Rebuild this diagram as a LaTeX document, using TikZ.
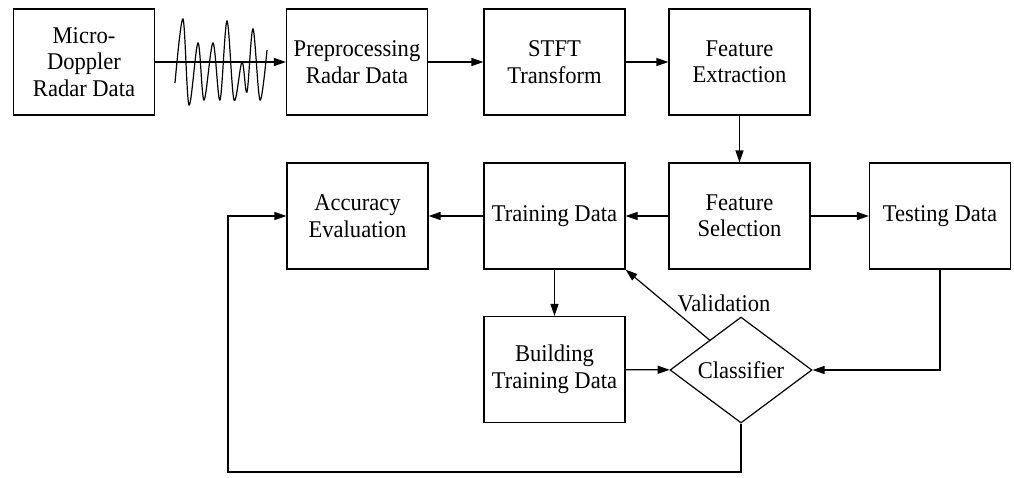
\documentclass[tikz,border=0pt]{standalone}
\usepackage{fontspec}
\setmainfont[FakeStretch=0.94]{Liberation Serif}
\usetikzlibrary{shapes.geometric,arrows.meta,calc}
\begin{document}
\begin{tikzpicture}[x=1pt,y=-1pt,
  box/.style={draw, line width=1.2pt, minimum width=141pt, minimum height=106pt, align=center, inner sep=0pt, font=\fontsize{24}{26.5}\selectfont},
  dia/.style={draw, diamond, line width=1.2pt, minimum width=142pt, minimum height=106pt, inner sep=0pt, font=\fontsize{24}{26.5}\selectfont},
  arr/.style={-{Triangle[length=12pt,width=8pt]}, line width=1.2pt},
  lbl/.style={font=\fontsize{24}{26.5}\selectfont, inner sep=0pt},
  wave/.style={line width=1.2pt}]
\useasboundingbox (0,0) rectangle (1014,477);
\node[box] (md) at (84,62) {Micro-\\Doppler\\Radar Data};
\node[box] (pre) at (357,62) {Preprocessing\\Radar Data};
\node[box] (stft) at (554.5,62) {STFT\\Transform};
\node[box] (fe) at (739.5,62) {Feature\\Extraction};
\node[box] (acc) at (357.5,216) {Accuracy\\Evaluation};
\node[box] (tr) at (554.5,216) {Training Data};
\node[box] (fs) at (739.5,216) {Feature\\Selection};
\node[box] (te) at (940,216) {Testing Data};
\node[box] (bt) at (554.5,369.5) {Building\\Training Data};
\node[dia] (cl) at (741,370) {Classifier};
\node[lbl] (val) at (724,303) {Validation};
\coordinate (fb1) at (741,472);
\coordinate (fb2) at (228,216);
\coordinate (vs) at ($(cl.west)!0.56!(cl.north)$);
% wave
\draw[wave] plot[smooth, tension=0.55] coordinates {(175,83) (183,19) (189,105) (198,43) (204,100) (213,43) (220,100) (227,21) (234,100) (242,62) (247,92) (253,29) (260,100) (267,50)};
\draw[arr] (md) -- (pre);
\draw[arr] (pre) -- (stft);
\draw[arr] (stft) -- (fe);
\draw[arr] (fe) -- (fs);
\draw[arr] (fs) -- (tr);
\draw[arr] (fs) -- (te);
\draw[arr] (tr) -- (acc);
\draw[arr] (tr) -- (bt);
\draw[arr] (bt) -- (cl);
\draw[arr] (te.south) |- (cl.east);
\draw[arr] (vs) -- (tr.south east);
\draw[arr] (cl.south) -- (fb1) -| (fb2) -- (acc.west);
\end{tikzpicture}
\end{document}
